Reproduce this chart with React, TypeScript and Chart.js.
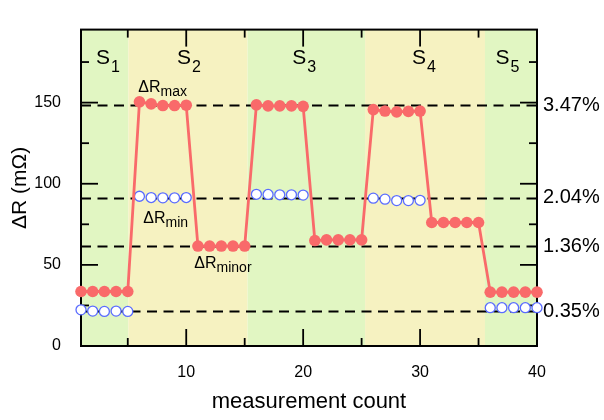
import React, { useEffect, useRef } from 'react';
import { Chart, registerables } from 'chart.js';

Chart.register(...registerables);

const FONT = '"Liberation Sans", Arial, sans-serif';

// ---- data ----
const counts = [1, 2, 3, 4, 5, 6, 7, 8, 9, 10, 11, 12, 13, 14, 15, 16, 17, 18, 19, 20,
  21, 22, 23, 24, 25, 26, 27, 28, 29, 30, 31, 32, 33, 34, 35, 36, 37, 38, 39, 40];

const deltaR = [
  33.6, 33.6, 33.6, 33.6, 33.6,
  150.5, 149.2, 148.2, 148.2, 148.4,
  61.6, 61.6, 61.6, 61.6, 61.6,
  148.6, 148.0, 148.0, 148.0, 147.7,
  65.0, 65.4, 65.4, 65.4, 65.4,
  145.7, 144.8, 144.3, 144.6, 144.8,
  76.1, 76.1, 76.1, 76.1, 76.1,
  33.2, 33.2, 33.2, 33.2, 33.2,
];

const deltaRmin: (number | null)[] = [
  22.3, 21.5, 21.3, 21.5, 21.3,
  92.3, 91.5, 91.3, 91.3, 91.5,
  null, null, null, null, null,
  93.5, 93.4, 93.2, 93.2, 93.0,
  null, null, null, null, null,
  91.1, 90.5, 89.6, 89.6, 89.8,
  null, null, null, null, null,
  23.6, 23.6, 23.6, 23.6, 23.6,
];

const refValues = [148.4, 91.3, 61.5, 21.3];
const refLabels = ['3.47%', '2.04%', '1.36%', '0.35%'];

const bandEdges = [1, 5.05, 15.25, 25.3, 35.55, 40];
const bandColors = ['#e1f6c2', '#f6f2c1', '#e1f6c2', '#f6f2c1', '#e1f6c2'];

const stageSubs = ['1', '2', '3', '4', '5'];
const stageCenters = [3.31, 10.24, 20.08, 30.34, 37.48];
const stageBaseline = 173.7;

const annoSubs = ['max', 'min', 'minor'];
const annoX = [5.9, 6.33, 10.69];
const annoY = [156.4, 75.6, 48.1];

const yTicks = [0, 50, 100, 150];
const yMinor = [25, 75, 125, 175];
const xTicks = [10, 20, 30, 40];
const xMinor = [5, 15, 25, 35];

const decor = {
  id: 'decor',
  beforeDatasetsDraw(chart: any) {
    const { ctx, chartArea: a, scales } = chart;
    const x = scales.x, y = scales.y;
    ctx.save();
    for (let i = 0; i < bandColors.length; i++) {
      const x0 = x.getPixelForValue(bandEdges[i]);
      const x1 = x.getPixelForValue(bandEdges[i + 1]);
      ctx.fillStyle = bandColors[i];
      ctx.fillRect(x0, a.top, x1 - x0, a.bottom - a.top);
    }
    ctx.strokeStyle = '#000';
    ctx.lineWidth = 1.8;
    ctx.setLineDash([10, 6.5]);
    refValues.forEach((v) => {
      const py = Math.round(y.getPixelForValue(v)) + 0.5;
      ctx.beginPath();
      ctx.moveTo(a.left, py);
      ctx.lineTo(a.right, py);
      ctx.stroke();
    });
    ctx.setLineDash([]);
    ctx.lineWidth = 2;
    ctx.strokeRect(a.left, a.top, a.right - a.left, a.bottom - a.top);
    ctx.lineWidth = 1.8;
    const tick = (x0: number, y0: number, x1: number, y1: number) => {
      ctx.beginPath();
      ctx.moveTo(x0, y0);
      ctx.lineTo(x1, y1);
      ctx.stroke();
    };
    const MAJ = 17, MIN = 8;
    yTicks.forEach((v) => {
      const py = y.getPixelForValue(v);
      tick(a.left, py, a.left + MAJ, py);
      tick(a.right, py, a.right - MAJ, py);
    });
    yMinor.forEach((v) => {
      const py = y.getPixelForValue(v);
      tick(a.left, py, a.left + MIN, py);
      tick(a.right, py, a.right - MIN, py);
    });
    xTicks.forEach((v) => {
      const px = x.getPixelForValue(v);
      tick(px, a.bottom, px, a.bottom - MAJ);
      tick(px, a.top, px, a.top + MAJ);
    });
    xMinor.forEach((v) => {
      const px = x.getPixelForValue(v);
      tick(px, a.bottom, px, a.bottom - MIN);
      tick(px, a.top, px, a.top + MIN);
    });
    ctx.restore();
  },
  afterDatasetsDraw(chart: any) {
    const { ctx, chartArea: a, scales } = chart;
    const x = scales.x, y = scales.y;
    ctx.save();
    ctx.fillStyle = '#000';
    ctx.textBaseline = 'alphabetic';
    ctx.textAlign = 'left';
    stageSubs.forEach((sub, i) => {
      ctx.font = `21px ${FONT}`;
      const w1 = ctx.measureText('S').width;
      ctx.font = `16px ${FONT}`;
      const w2 = ctx.measureText(sub).width;
      const cx = x.getPixelForValue(stageCenters[i]);
      const by = y.getPixelForValue(stageBaseline);
      const left = cx - (w1 + w2 + 1) / 2;
      ctx.font = `21px ${FONT}`;
      ctx.fillText('S', left, by);
      ctx.font = `16px ${FONT}`;
      ctx.fillText(sub, left + w1 + 1, by + 8);
    });
    annoSubs.forEach((sub, i) => {
      const px = x.getPixelForValue(annoX[i]);
      const py = y.getPixelForValue(annoY[i]);
      ctx.font = `16px ${FONT}`;
      ctx.fillText('ΔR', px, py);
      const w = ctx.measureText('ΔR').width;
      ctx.font = `14px ${FONT}`;
      ctx.fillText(sub, px + w, py + 4);
    });
    ctx.font = `20px ${FONT}`;
    ctx.textBaseline = 'middle';
    refLabels.forEach((t, i) => {
      ctx.fillText(t, a.right + 6, y.getPixelForValue(refValues[i]));
    });
    ctx.restore();
  },
};

export default function App() {
  const ref = useRef<HTMLCanvasElement>(null);
  useEffect(() => {
    if (!ref.current) return;
    Chart.defaults.font.family = FONT;
    Chart.defaults.color = '#000';
    const chart = new Chart(ref.current, {
      type: 'line',
      data: {
        datasets: [
          {
            data: counts.map((c, i) => ({ x: c, y: deltaR[i] })),
            borderColor: '#f96a6a',
            backgroundColor: '#f96a6a',
            borderWidth: 2.8,
            pointRadius: 5.8,
            pointBorderWidth: 0,
            pointBackgroundColor: '#f96a6a',
            tension: 0,
            clip: false,
          },
          {
            data: counts.map((c, i) => ({ x: c, y: deltaRmin[i] })),
            showLine: false,
            pointRadius: 5.0,
            pointBorderWidth: 1.3,
            pointBorderColor: '#5a6cff',
            pointBackgroundColor: '#ffffff',
            borderColor: '#5a6cff',
            backgroundColor: '#ffffff',
            clip: false,
          },
        ] as any,
      },
      options: {
        animation: false,
        responsive: false,
        devicePixelRatio: 1,
        layout: { padding: { top: 7, right: 67, left: 0, bottom: 0 } },
        plugins: { legend: { display: false }, tooltip: { enabled: false } },
        events: [],
        scales: {
          x: {
            type: 'linear',
            position: 'bottom',
            min: 1,
            max: 40,
            grid: { display: false, drawTicks: false },
            border: { display: false },
            ticks: { font: { size: 16 }, color: '#000', padding: 17 },
            afterBuildTicks: (s: any) => { s.ticks = xTicks.map((v) => ({ value: v })); },
            afterFit: (s: any) => { s.height = 74; },
            title: {
              display: true,
              text: 'measurement count',
              font: { size: 22 },
              color: '#000',
              padding: { top: 0, bottom: 5 },
            },
          },
          y: {
            type: 'linear',
            position: 'left',
            min: 0,
            max: 195,
            grid: { display: false, drawTicks: false },
            border: { display: false },
            ticks: { font: { size: 16 }, color: '#000', padding: 20 },
            afterBuildTicks: (s: any) => { s.ticks = yTicks.map((v) => ({ value: v })); },
            afterFit: (s: any) => { s.width = 81; },
            title: {
              display: true,
              text: 'ΔR (mΩ)',
              font: { size: 21 },
              color: '#000',
              padding: { top: 8, bottom: 0 },
            },
          },
        },
      } as any,
      plugins: [decor],
    });
    return () => chart.destroy();
  }, []);
  return (
    <div style={{ position: 'fixed', left: 0, top: 0, width: 604, height: 420, background: '#fff' }}>
      <canvas ref={ref} width={604} height={420} style={{ display: 'block' }} />
    </div>
  );
}
